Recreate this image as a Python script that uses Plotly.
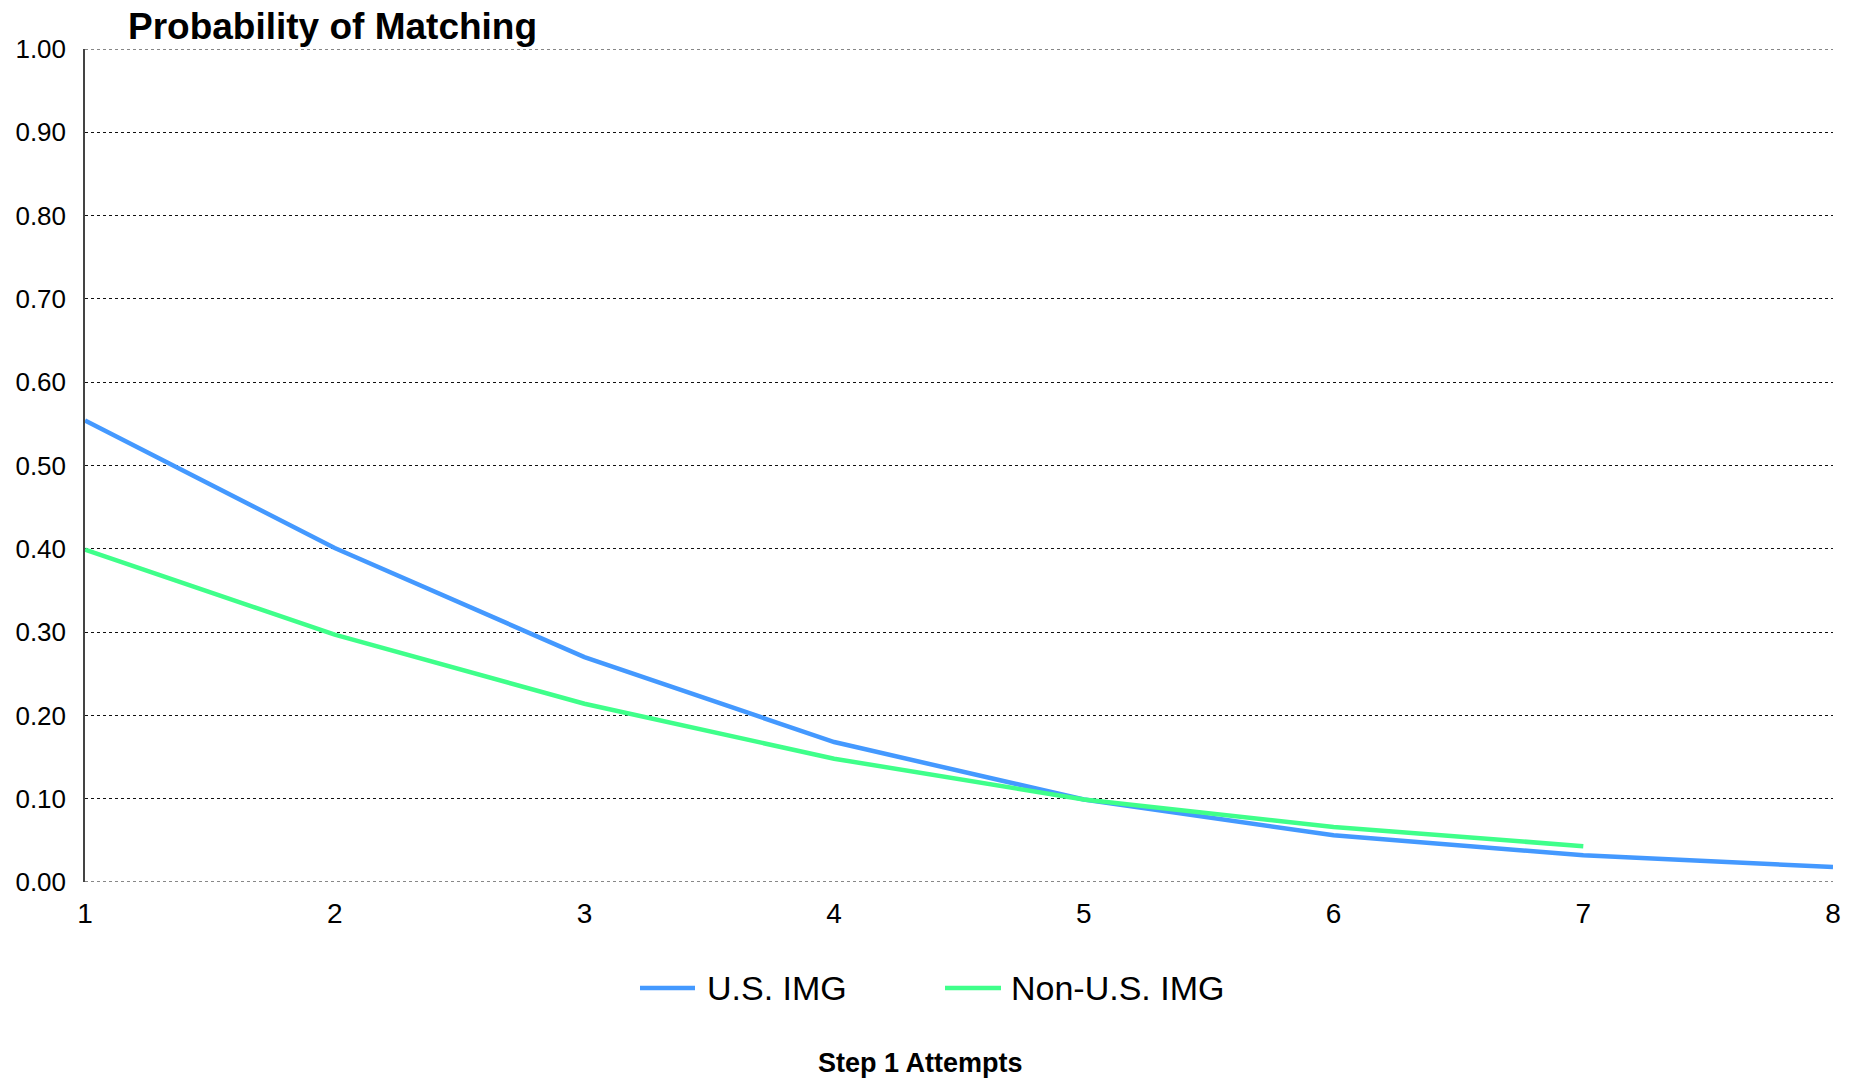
import plotly.graph_objects as go

attempts = [1, 2, 3, 4, 5, 6, 7, 8]
us_img = [0.554, 0.401, 0.270, 0.168, 0.099, 0.056, 0.032, 0.018]
attempts_non = [1, 2, 3, 4, 5, 6, 7]
non_us_img = [0.399, 0.297, 0.214, 0.148, 0.099, 0.066, 0.043]

series_names = ["U.S. IMG", "Non-U.S. IMG"]
series_colors = ["#4499FF", "#3FFF8A"]
y_edges = [0.0, 1.0]

FONT = "Liberation Sans, Arial, sans-serif"
W, H = 1860, 1081
L, R, T, B = 85, 27, 49, 199
pw = W - L - R
ph = H - T - B


def px_x(x):
    return (x - L) / pw


def px_y(y):
    return 1 - (y - T) / ph


fig = go.Figure()
fig.add_trace(go.Scatter(x=attempts, y=us_img, mode="lines", name=series_names[0],
                         line=dict(color=series_colors[0], width=4.5), showlegend=False))
fig.add_trace(go.Scatter(x=attempts_non, y=non_us_img, mode="lines", name=series_names[1],
                         line=dict(color=series_colors[1], width=4.5), showlegend=False))

shapes = []
# dotted gridlines at the range edges (plotly omits them)
for yv in y_edges:
    shapes.append(dict(type="line", xref="paper", yref="y", x0=0, x1=1, y0=yv, y1=yv,
                       line=dict(color="#111", width=1, dash="dot"), layer="below"))

# custom legend (long line swatches like the original)
legend_line_x = [(640, 695), (945, 1001)]
legend_text_x = [705, 1009]
legend_y = 988
annotations = []
for name, col, (x0, x1), tx in zip(series_names, series_colors, legend_line_x, legend_text_x):
    shapes.append(dict(type="line", xref="paper", yref="paper",
                       x0=px_x(x0), x1=px_x(x1), y0=px_y(legend_y), y1=px_y(legend_y),
                       line=dict(color=col, width=4.5)))
    annotations.append(dict(text=name, xref="paper", yref="paper",
                            x=px_x(tx), xanchor="left", y=px_y(legend_y), yanchor="middle",
                            showarrow=False, font=dict(size=34, family=FONT, color="black")))

annotations += [
    dict(text="<b>Probability of Matching</b>", xref="paper", yref="paper",
         x=px_x(126), xanchor="left", y=px_y(26), yanchor="middle",
         showarrow=False, font=dict(size=37, family=FONT, color="black")),
    dict(text="<b>Step 1 Attempts</b>", xref="paper", yref="paper",
         x=px_x(920), xanchor="center", y=px_y(1063), yanchor="middle",
         showarrow=False, font=dict(size=27, family=FONT, color="black")),
]

fig.update_layout(
    width=W, height=H,
    margin=dict(l=L, r=R, t=T, b=B, pad=0),
    paper_bgcolor="white", plot_bgcolor="white",
    font=dict(family=FONT, color="black"),
    showlegend=False,
    xaxis=dict(range=[1, 8], dtick=1, tick0=1, showgrid=False, zeroline=False,
               showline=False, ticks="", tickfont=dict(size=28),
               ticklabelstandoff=12),
    yaxis=dict(range=[0, 1], dtick=0.1, tick0=0, tickformat=".2f",
               showgrid=True, gridcolor="#111", griddash="dot", gridwidth=1,
               zeroline=False, showline=True, linecolor="#444", linewidth=1.5,
               ticks="", tickfont=dict(size=26), ticklabelstandoff=12),
    shapes=shapes,
    annotations=annotations,
)

fig.write_html("out.html", config={"displayModeBar": False},
               post_script="document.body.style.margin='0px';")
